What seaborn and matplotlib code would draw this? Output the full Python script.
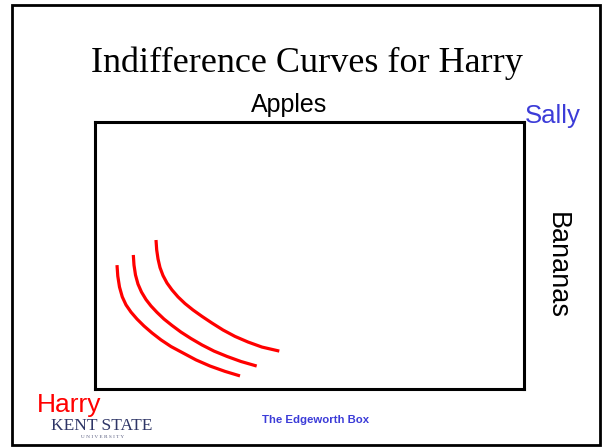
import matplotlib
matplotlib.use("Agg")
import matplotlib.pyplot as plt
from matplotlib.patches import Rectangle
import pandas as pd
import seaborn as sns

# Harry's indifference curves
# (box units 0-100, Harry's origin at bottom-left corner of the box)
curve1_x = [5.13, 5.31, 5.71, 6.36, 7.23, 8.39, 9.79, 11.42, 13.29, 15.38, 17.72, 20.51, 23.54, 26.81, 30.30, 33.80]
curve1_y = [46.4, 42.3, 38.2, 34.5, 31.5, 28.8, 26.2, 23.6, 21.0, 18.4, 15.9, 13.5, 10.9, 8.6, 6.6, 4.9]
curve2_x = [8.93, 9.09, 9.44, 10.02, 10.84, 11.89, 13.05, 14.45, 16.08, 17.95, 20.05, 22.38, 24.94, 27.74,
            30.77, 34.03, 37.69]
curve2_y = [50.2, 46.4, 42.7, 39.3, 36.3, 33.5, 31.1, 28.7, 26.2, 23.8, 21.3, 18.9, 16.5, 14.2, 12.2, 10.3, 8.6]
curve3_x = [14.22, 14.38, 14.69, 15.15, 15.85, 16.78, 17.95, 19.35, 20.98, 22.84, 24.94, 27.27, 29.84, 32.63,
            35.66, 38.93, 42.96]
curve3_y = [55.8, 52.1, 48.7, 45.5, 42.5, 39.7, 37.1, 34.5, 32.0, 29.6, 27.2, 24.7, 22.1, 19.7, 17.6, 15.7, 14.2]

title = "Indifference Curves for Harry"
good_top = "Apples"
good_side = "Bananas"
owner_a = "Harry"
owner_b = "Sally"
footer = "The Edgeworth Box"

frames = []
for name, xs, ys in [("U1", curve1_x, curve1_y), ("U2", curve2_x, curve2_y), ("U3", curve3_x, curve3_y)]:
    frames.append(pd.DataFrame({"apples": xs, "bananas": ys, "curve": name}))
df = pd.concat(frames, ignore_index=True)

sns.set_style("white")
W, H = 609, 448
fig = plt.figure(figsize=(W / 100, H / 100), dpi=100)

# the edgeworth box itself
ax = fig.add_axes([95 / W, 1 - 389 / H, 429 / W, 267 / H])
sns.lineplot(data=df, x="apples", y="bananas", hue="curve", units="curve", estimator=None,
             sort=False, palette=["#ff0000"] * 3, legend=False, linewidth=2.3,
             solid_capstyle="butt", solid_joinstyle="round", ax=ax)
ax.set_xlim(0, 100)
ax.set_ylim(0, 100)
ax.set_xticks([])
ax.set_yticks([])
ax.set_xlabel("")
ax.set_ylabel("")
for s in ax.spines.values():
    s.set_visible(True)
    s.set_color("black")
    s.set_linewidth(2.2)

# slide frame
fig.patches.append(Rectangle((12 / W, 1 - 445 / H), 588 / W, 440 / H, transform=fig.transFigure,
                             fill=False, edgecolor="black", linewidth=2.0))

def fx(px):
    return px / W

def fy(py):
    return 1 - py / H

fig.text(fx(307), fy(72), title, ha="center", va="baseline", fontsize=26,
         family="Liberation Serif", color="black")
fig.text(fx(289), fy(112), good_top, ha="center", va="baseline", fontsize=18,
         family="Liberation Sans", color="black")
fig.text(fx(525), fy(123), owner_b, ha="left", va="baseline", fontsize=18.5,
         family="Liberation Sans", color="#3c3cd8")
fig.text(fx(557), fy(265), good_side, ha="center", va="center", rotation=270, fontsize=19.5,
         family="Liberation Sans", color="black")
fig.text(fx(37), fy(412), owner_a, ha="left", va="baseline", fontsize=19,
         family="Liberation Sans", color="#ff0000")
fig.text(fx(316), fy(423), footer, ha="center", va="baseline", fontsize=8.2, fontweight="bold",
         family="Liberation Sans", color="#3c3cd8")

# rough stand-in for the university logo
fig.text(fx(102), fy(430), "KENT STATE", ha="center", va="baseline", fontsize=12.5,
         family="Liberation Serif", color="#2e3566")
fig.text(fx(103), fy(438), "U N I V E R S I T Y", ha="center", va="baseline", fontsize=3.8,
         family="Liberation Serif", color="#5a5f80")

fig.savefig("out.png", dpi=100)
